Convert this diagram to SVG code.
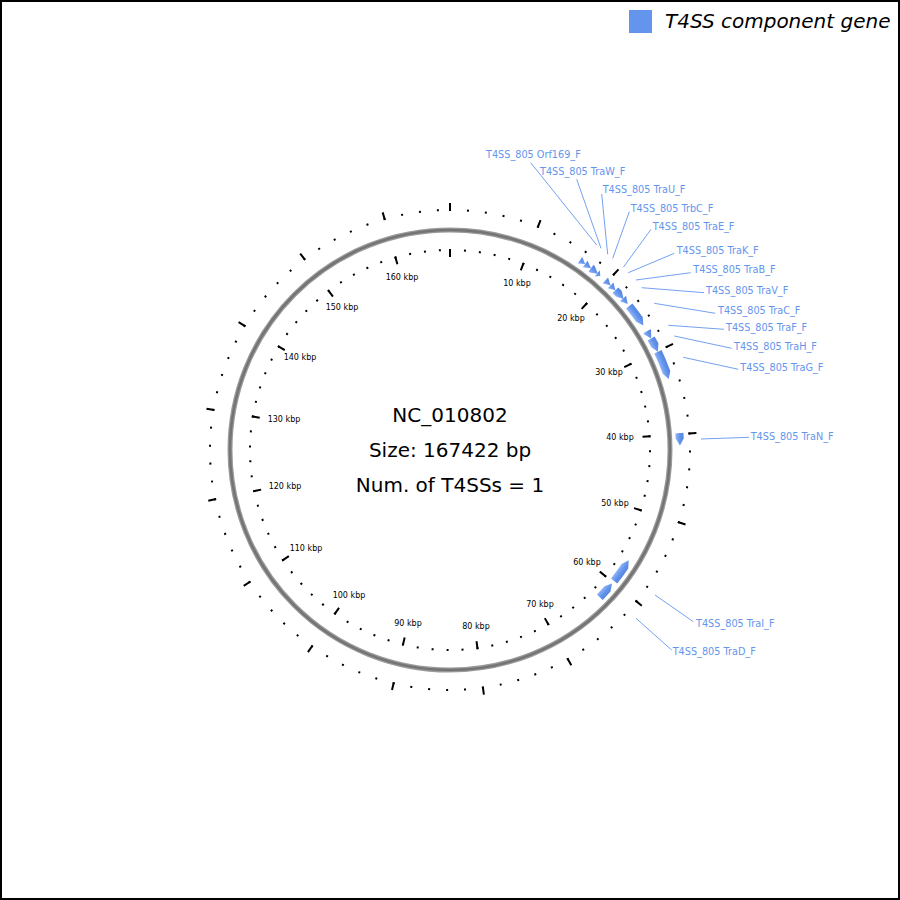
<svg xmlns="http://www.w3.org/2000/svg" width="900" height="900" viewBox="0 0 900 900">
<defs>
<radialGradient id="gg" gradientUnits="userSpaceOnUse" cx="450" cy="450" r="240">
<stop offset="0.858" stop-color="#92b3f3"/>
<stop offset="0.875" stop-color="#6495ED"/>
<stop offset="0.892" stop-color="#5383e0"/>
<stop offset="0.9417" stop-color="#92b3f3"/>
<stop offset="0.958" stop-color="#6495ED"/>
<stop offset="0.975" stop-color="#5383e0"/>
</radialGradient>
</defs>
<style>
.gene{fill:url(#gg);}
.lbl{font-family:"DejaVu Sans",sans-serif;font-size:9.7px;fill:#6495ED;}
.lead{stroke:#6495ED;stroke-width:0.9;fill:none;}
.tk{font-family:"DejaVu Sans",sans-serif;font-size:8px;fill:#000;text-anchor:middle;}
.ctr{font-family:"DejaVu Sans",sans-serif;font-size:20px;fill:#000;text-anchor:middle;}
.tick{fill:none;stroke:#000;}
</style>
<rect x="0" y="0" width="900" height="900" fill="#fff"/>
<rect x="1" y="1" width="898" height="898" fill="none" stroke="#000" stroke-width="2"/>

<g id="legend">
<rect x="629" y="10" width="23" height="23" fill="#6495ED"/>
<text x="665" y="28" font-family="DejaVu Sans, sans-serif" font-size="20" font-style="italic" fill="#000">T4SS component gene</text>
</g>

<g id="ticks" class="tick">
<g transform="rotate(-90 450 450)">
<circle cx="450" cy="450" r="200" stroke-width="2" stroke-dasharray="2 13.0116" stroke-dashoffset="1"/>
<circle cx="450" cy="450" r="240" stroke-width="2" stroke-dasharray="2 16.0139" stroke-dashoffset="1"/>
<circle cx="450" cy="450" r="197" stroke-width="8" stroke-dasharray="2 71.932" stroke-dashoffset="1"/>
<circle cx="450" cy="450" r="243" stroke-width="8" stroke-dasharray="2 89.196" stroke-dashoffset="1"/>
</g>
<line x1="450" y1="249" x2="450" y2="257" stroke-width="2"/>
<line x1="450" y1="203" x2="450" y2="211" stroke-width="2"/>
</g>

<g id="tick-labels" class="tk">
<text x="517" y="286">10 kbp</text>
<text x="571" y="321">20 kbp</text>
<text x="609" y="374.5">30 kbp</text>
<text x="620" y="439.5">40 kbp</text>
<text x="615" y="506">50 kbp</text>
<text x="587" y="564.5">60 kbp</text>
<text x="540" y="607">70 kbp</text>
<text x="476" y="629">80 kbp</text>
<text x="408" y="626">90 kbp</text>
<text x="349" y="598">100 kbp</text>
<text x="306" y="551">110 kbp</text>
<text x="285" y="489">120 kbp</text>
<text x="284" y="422">130 kbp</text>
<text x="300" y="360">140 kbp</text>
<text x="342" y="310">150 kbp</text>
<text x="402" y="280">160 kbp</text>
</g>

<g id="backbone">
<circle cx="450" cy="450" r="220" fill="none" stroke="#9b9b9b" stroke-width="5"/>
<circle cx="450" cy="450" r="220" fill="none" stroke="#747474" stroke-width="2.5"/>
</g>

<g id="center-text" class="ctr">
<text x="450" y="422">NC_010802</text>
<text x="450" y="457">Size: 167422 bp</text>
<text x="450" y="492">Num. of T4SSs = 1</text>
</g>

<g id="connectors" class="lead">
<line x1="530.7" y1="162.7" x2="596.7" y2="245"/>
<line x1="576.7" y1="179.3" x2="601" y2="248.3"/>
<line x1="601.7" y1="194" x2="607.7" y2="254.3"/>
<line x1="629.3" y1="211.7" x2="612.7" y2="258.3"/>
<line x1="651" y1="229.3" x2="623.3" y2="267.3"/>
<line x1="674.3" y1="253.3" x2="628.3" y2="272.7"/>
<line x1="690.7" y1="272.7" x2="636" y2="280"/>
<line x1="704" y1="292.7" x2="641.7" y2="287.7"/>
<line x1="715.3" y1="313.3" x2="654.3" y2="303.3"/>
<line x1="724" y1="329.3" x2="668.3" y2="325.3"/>
<line x1="731.7" y1="348.3" x2="674.3" y2="336"/>
<line x1="738.3" y1="369.3" x2="683.3" y2="357.3"/>
<line x1="749" y1="437.3" x2="701" y2="439"/>
<line x1="693.3" y1="621.7" x2="655" y2="595"/>
<line x1="671.7" y1="650" x2="636" y2="618.3"/>
</g>

<g id="gene-Orf169"><path class="gene" d="M582.21,256.93 L585.19,263.93 L577.69,263.53 Z"/><text class="lbl" x="486" y="157.5">T4SS_805 Orf169_F</text></g>
<g id="gene-TraW"><path class="gene" d="M587.55,260.69 L590.97,268.28 L582.84,267.17 Z"/><text class="lbl" x="540" y="175">T4SS_805 TraW_F</text></g>
<g id="gene-TraU"><path class="gene" d="M593.42,265.12 A234,234 0 0 1 594.89,266.26 L597.84,273.82 L589.94,272.54 A226,226 0 0 0 588.52,271.44 Z"/><text class="lbl" x="602.7" y="193">T4SS_805 TraU_F</text></g>
<g id="gene-TrbC"><path class="gene" d="M599.78,270.24 L600.28,275.89 L594.66,276.39 Z"/><text class="lbl" x="630.7" y="211.7">T4SS_805 TrbC_F</text></g>
<g id="gene-TraE"><path class="gene" d="M608.09,277.47 L610.63,285.39 L602.69,283.37 Z"/><text class="lbl" x="652.7" y="230">T4SS_805 TraE_F</text></g>
<g id="gene-TraK"><path class="gene" d="M613.43,282.53 L615.44,290.22 L607.84,288.25 Z"/><text class="lbl" x="676.7" y="254.3">T4SS_805 TraK_F</text></g>
<g id="gene-TraB"><path class="gene" d="M618.32,287.44 A234,234 0 0 1 621.85,291.18 L623.58,299.10 L615.97,296.61 A226,226 0 0 0 612.56,293.00 Z"/><text class="lbl" x="693.3" y="273">T4SS_805 TraB_F</text></g>
<g id="gene-TraV"><path class="gene" d="M626.06,295.86 L627.72,304.02 L620.04,301.13 Z"/><text class="lbl" x="706" y="294.3">T4SS_805 TraV_F</text></g>
<g id="gene-TraC"><path class="gene" d="M632.36,303.38 A234,234 0 0 1 642.75,317.32 L643.34,325.41 L636.16,321.86 A226,226 0 0 0 626.12,308.39 Z"/><text class="lbl" x="718" y="314.3">T4SS_805 TraC_F</text></g>
<g id="gene-TraF"><path class="gene" d="M650.37,329.14 A234,234 0 0 1 651.10,330.38 L651.16,338.50 L644.22,334.47 A226,226 0 0 0 643.52,333.27 Z"/><text class="lbl" x="726" y="331">T4SS_805 TraF_F</text></g>
<g id="gene-TraH"><path class="gene" d="M654.66,336.56 A234,234 0 0 1 658.40,343.60 L657.94,351.70 L651.28,347.24 A226,226 0 0 0 647.66,340.44 Z"/><text class="lbl" x="734" y="350">T4SS_805 TraH_F</text></g>
<g id="gene-TraG"><path class="gene" d="M661.56,349.99 A234,234 0 0 1 670.24,370.95 L668.75,378.93 L662.71,373.66 A226,226 0 0 0 654.33,353.41 Z"/><text class="lbl" x="740.3" y="371">T4SS_805 TraG_F</text></g>
<g id="gene-TraN"><path class="gene" d="M683.37,432.87 A234,234 0 0 1 683.71,438.39 L679.96,445.58 L675.72,438.79 A226,226 0 0 0 675.39,433.46 Z"/><text class="lbl" x="750.7" y="440">T4SS_805 TraN_F</text></g>
<g id="gene-TraI"><path class="gene" d="M628.67,560.36 L628.22,568.45 A214,214 0 0 1 617.24,583.51 L610.99,578.52 A206,206 0 0 0 621.56,564.02 Z"/><text class="lbl" x="696" y="626.7">T4SS_805 TraI_F</text></g>
<g id="gene-TraD"><path class="gene" d="M612.04,583.58 L610.48,591.54 A214,214 0 0 1 602.65,600.00 L596.94,594.39 A206,206 0 0 0 604.48,586.25 Z"/><text class="lbl" x="672.7" y="655">T4SS_805 TraD_F</text></g>
</svg>
